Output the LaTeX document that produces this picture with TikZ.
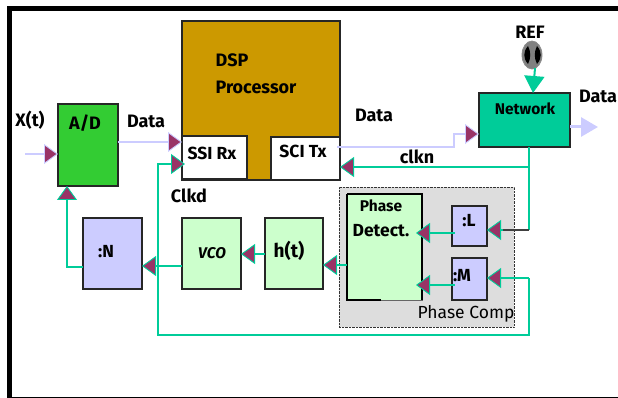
\documentclass[tikz,border=0pt]{standalone}
\usepackage{fontspec}
\setmainfont{Fira Sans}
\usetikzlibrary{arrows.meta,shapes.geometric}
\definecolor{dspcol}{HTML}{CC9900}
\definecolor{adcol}{HTML}{33CC33}
\definecolor{netcol}{HTML}{00CC99}
\definecolor{divcol}{HTML}{CCCCFF}
\definecolor{filtcol}{HTML}{CCFFCC}
\definecolor{compcol}{HTML}{DDDDDD}
\definecolor{headcol}{HTML}{993366}
\tikzset{
	blk/.style={draw=black!85, line width=1.4pt, inner sep=0pt, outer sep=0pt},
	lbl/.style={font=\bfseries\fontsize{18}{20}\selectfont, inner sep=0pt},
	lblsm/.style={font=\bfseries\fontsize{15.5}{18}\selectfont, inner sep=0pt},
	lblbox/.style={font=\bfseries\fontsize{17.5}{20}\selectfont, inner sep=0pt},
	clkline/.style={draw=netcol, line width=1.5pt, -{Triangle[length=14pt,width=20pt,fill=headcol,line width=0.9pt]}},
	dataline/.style={draw=divcol, line width=1.5pt, -{Triangle[length=14pt,width=20pt,fill=headcol,line width=0.9pt]}}
}
\begin{document}
\begin{tikzpicture}[x=1pt,y=-1pt]
	\useasboundingbox (0,0) rectangle (618,398);
	\fill[black] (7,6) rectangle (12,398);
	\fill[black] (7,6) rectangle (618,11);
	\fill[black] (7,397) rectangle (618,398);
	% boxes
	\node (dsp) at (261,100.5) [blk, fill=dspcol, minimum width=158pt, minimum height=159pt] {};
	\node (ssi) at (214.5,157.5) [blk, fill=white, minimum width=65pt, minimum height=43pt] {};
	\node (sci) at (305.5,158.5) [blk, fill=white, minimum width=69pt, minimum height=43pt] {};
	\node (ad) at (88,145) [blk, fill=adcol, minimum width=60pt, minimum height=82pt] {};
	\node (net) at (524.5,120) [blk, fill=netcol, minimum width=91pt, minimum height=54pt] {};
	\node (divn) at (112.5,253.5) [blk, fill=divcol, minimum width=59pt, minimum height=71pt] {};
	\node (vco) at (211.5,253.5) [blk, fill=filtcol, minimum width=59pt, minimum height=71pt] {};
	\node (filt) at (294,253.5) [blk, fill=filtcol, minimum width=58pt, minimum height=71pt] {};
	\node (comp) at (426.5,257) [draw=black!80, densely dotted, fill=compcol, minimum width=175pt, minimum height=140pt, inner sep=0pt, outer sep=0pt] {};
	\node (pd) at (384.5,247) [blk, draw=black!60, line width=1pt, fill=filtcol, minimum width=75pt, minimum height=106pt] {};
	\draw[black, line width=1.6pt] (pd.north west) -- (pd.south west) -- ++(34,0);
	\draw[black, line width=1.6pt] (pd.north west) -- (pd.north east) -- (pd.south east);
	\node (divl) at (469.5,226) [blk, fill=divcol, minimum width=35pt, minimum height=40pt] {};
	\node (divm) at (469.5,279) [blk, fill=divcol, minimum width=35pt, minimum height=42pt] {};
	\node (ref) at (532,55) [ellipse, draw=black!45, fill=black!50, line width=0.8pt, minimum width=20pt, minimum height=28pt, inner sep=0pt] {};
	\fill[black] (528,46) .. controls (523,52) and (523,58) .. (528,64) .. controls (531,58) and (531,52) .. (528,46);
	\fill[black] (537,46) .. controls (534,52) and (534,58) .. (537,64) .. controls (542,58) and (542,52) .. (537,46);
	% free ends
	\coordinate (xin) at (25,154);
	\coordinate (dataout) at (598,127);
	\coordinate (refout) at (535,68);
	\coordinate (refin) at (533,93);
	\coordinate (adout) at (118,142);
	\coordinate (clkdtop) at (158,164);
	\coordinate (clkdin) at (185,164);
	\coordinate (clkdbot) at (158,335);
	\coordinate (ltap) at (529,230);
	\coordinate (lstub) at (503,230);
	\coordinate (mtap) at (529,278);
	\coordinate (clkntap) at (529,167);
	\coordinate (txout) at (337,147);
	\coordinate (txstep) at (454,134);
	\coordinate (ntap) at (67,267);
	\coordinate (vcoout) at (182,266);
	\coordinate (filtout) at (265,254);
	\coordinate (pdout) at (347,265);
	\coordinate (pdl) at (416,233);
	\coordinate (pdm) at (416,285);
	\coordinate (lout) at (455,233);
	\coordinate (mout) at (455,285);
	% connectors
	\draw[dataline] (xin) to (ad.west |- xin);
	\draw[dataline] (adout) to (dsp.west |- adout);
	\draw[dataline] (txout) -| (txstep) -- (net.west |- txstep);
	\draw[draw=divcol, line width=3pt, -{Triangle[length=17pt,width=19pt,fill=divcol]}] (net.east |- dataout) to (dataout);
	\draw[draw=netcol, line width=2pt, -{Triangle[length=17pt,width=20pt,fill=netcol]}] (refout) to (refin);
	\draw[clkline] (mtap) -- (clkdbot -| mtap) -- (clkdbot) -- (clkdtop) -- (clkdin);
	\draw[draw=netcol, line width=1.5pt] (net.south -| ltap) to (ltap);
	\draw[clkline] (clkntap) to (sci.east |- clkntap);
	\draw[draw=black!75, line width=1.5pt] (ltap) to (lstub);
	\draw[clkline] (lstub) to (divl.east |- lstub);
	\draw[clkline] (mtap) to (divm.east |- mtap);
	\draw[clkline] (divn.west |- ntap) -- (ntap) -- (ntap |- ad.south);
	\draw[clkline] (vcoout) to (divn.east |- vcoout);
	\draw[clkline] (filtout) to (vco.east |- filtout);
	\draw[clkline] (pdout) to (filt.east |- pdout);
	\draw[clkline] (lout) to (pdl);
	\draw[clkline] (mout) to (pdm);
	% labels
	\node (xt) at (30,120) [lbl] {X(t)};
	\node (adtxt) at (85,123) [lbl] {A/D};
	\node (d1) at (146,121) [lbl] {Data};
	\node (dsptxt) at (232,60) [lbl] {DSP};
	\node (proctxt) at (256,87) [lbl] {Processor};
	\node (ssitxt) at (212,153) [lblbox] {SSI Rx};
	\node (scitxt) at (303,151) [lblbox] {SCI Tx};
	\node (clkd) at (189,196) [lbl] {Clkd};
	\node (d2) at (374,115) [lbl] {Data};
	\node (clkn) at (417,157) [lbl] {clkn};
	\node (d3) at (598,96) [lbl] {Data};
	\node (reftxt) at (530,32) [lbl] {REF};
	\node (nettxt) at (525,109) [lblsm] {Network};
	\node (ntxt) at (106,252) [lblbox] {:N};
	\node (vcotxt) at (212,253) [lblsm, font=\bfseries\itshape\fontsize{15.5}{18}\selectfont] {VCO};
	\node (htxt) at (289,251) [lbl, font=\bfseries\fontsize{19}{21}\selectfont] {h(t)};
	\node (pdtxt1) at (381,206) [lblsm] {Phase};
	\node (pdtxt2) at (381,231) [lblbox] {Detect.};
	\node (ltxt) at (469,221) [lblbox] {:L};
	\node (mtxt) at (462,276) [lblbox] {:M};
	\node (comptxt) at (466,314) [lbl, font=\fontsize{17.5}{20}\selectfont] {Phase Comp};
\end{tikzpicture}
\end{document}
